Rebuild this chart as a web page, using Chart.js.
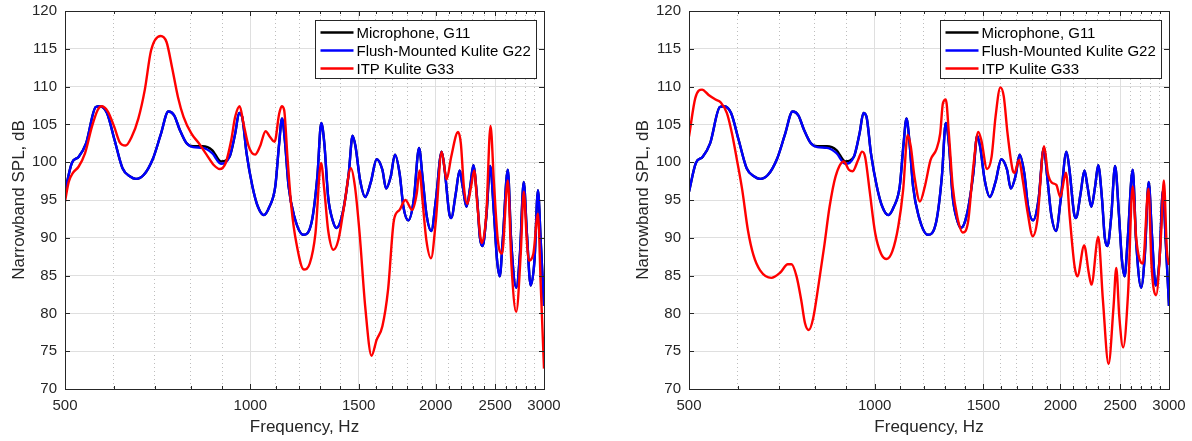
<!DOCTYPE html>
<html>
<head>
<meta charset="utf-8">
<script src="https://cdn.jsdelivr.net/npm/chart.js@4.4.1/dist/chart.umd.min.js"></script>
<style>
  body { margin: 0; background: #fff; }
  #wrap { position: relative; width: 1192px; height: 441px; }
  #wrap canvas { position: absolute; top: 0; }
</style>
</head>
<body>
<div id="wrap">
  <canvas id="left_chart" width="596" height="441" style="left:0"></canvas>
  <canvas id="right_chart" width="596" height="441" style="left:596px"></canvas>
</div>
<script>
// tick labels on the frequency axis
var xTickLabels = [500, 1000, 1500, 2000, 2500, 3000];

// Microphone G11 and flush-mounted Kulite G22 share one frequency grid (Hz)
var freqRef = [
  500, 513, 526, 541, 561, 570, 585, 602, 620, 638,
  652, 671, 695, 715, 736, 752, 768, 788, 807, 837,
  867, 896, 925, 945, 959, 970, 986, 1008, 1029, 1052,
  1074, 1098, 1114, 1126, 1138, 1154, 1179, 1219, 1258, 1285,
  1304, 1319, 1338, 1361, 1380, 1410, 1445, 1466, 1482, 1508,
  1537, 1570, 1604, 1639, 1662, 1691, 1718, 1748, 1773, 1806,
  1843, 1880, 1904, 1932, 1968, 2002, 2046, 2069, 2105, 2120,
  2157, 2188, 2213, 2245, 2277, 2303, 2337, 2360, 2384, 2418,
  2453, 2488, 2517, 2542, 2571, 2620, 2653, 2704, 2742, 2781,
  2814, 2854, 2895, 2933, 2963, 3000
];
var micDb = [
  96.1, 99.9, 100.7, 102.5, 107.3, 107.4, 106.5, 102.9, 99.2, 98.1,
  97.8, 98.3, 100.5, 103.6, 106.7, 106.2, 104.3, 102.5, 102.1, 102.1,
  101.6, 100.1, 100.7, 103.8, 106.5, 106.0, 101.2, 96.8, 94.1, 93.0,
  94.1, 96.8, 102.5, 105.8, 102.9, 96.8, 92.8, 90.4, 92.1, 98.1,
  105.2, 102.5, 95.4, 92.3, 91.3, 93.0, 98.5, 103.5, 102.1, 97.6,
  95.4, 97.4, 100.4, 99.0, 96.5, 98.1, 101.0, 98.5, 94.1, 92.3,
  95.0, 101.9, 98.1, 93.2, 90.9, 95.0, 101.4, 99.0, 93.2, 92.6,
  95.9, 98.9, 96.8, 94.1, 96.8, 99.6, 95.0, 90.1, 88.9, 92.8,
  99.5, 93.2, 87.0, 84.9, 89.7, 99.0, 89.7, 83.4, 87.9, 97.4,
  90.6, 83.7, 87.0, 96.3, 89.7, 81.0
];
var flushDb = [
  96.1, 99.9, 100.7, 102.5, 107.3, 107.4, 106.5, 102.9, 99.2, 98.1,
  97.8, 98.3, 100.5, 103.6, 106.7, 106.2, 104.3, 102.5, 102.0, 101.9,
  101.2, 99.8, 100.7, 103.8, 106.5, 106.0, 101.2, 96.8, 94.1, 93.0,
  94.1, 96.8, 102.5, 105.8, 102.9, 96.8, 92.8, 90.4, 92.1, 98.1,
  105.2, 102.5, 95.4, 92.3, 91.3, 93.0, 98.5, 103.5, 102.1, 97.6,
  95.4, 97.4, 100.4, 99.0, 96.5, 98.1, 101.0, 98.5, 94.1, 92.3,
  95.0, 101.9, 98.1, 93.2, 90.9, 95.0, 101.4, 99.0, 93.2, 92.6,
  95.9, 98.9, 96.8, 94.1, 96.8, 99.6, 95.0, 90.1, 88.9, 92.8,
  99.5, 93.2, 87.0, 84.9, 89.7, 99.0, 89.7, 83.4, 87.9, 97.4,
  90.6, 83.7, 87.0, 96.3, 89.7, 81.0
];

// ITP Kulite G33, left panel
var freqItpLeft = [
  500, 507, 515, 526, 539, 553, 565, 573, 587, 601,
  613, 627, 642, 658, 674, 690, 715, 731, 746, 763,
  779, 802, 825, 849, 873, 892, 912, 931, 945, 961,
  975, 994, 1018, 1037, 1059, 1075, 1095, 1114, 1125, 1135,
  1149, 1166, 1188, 1222, 1249, 1276, 1303, 1319, 1338, 1365,
  1390, 1420, 1457, 1479, 1505, 1537, 1574, 1604, 1639, 1674,
  1711, 1748, 1786, 1832, 1864, 1883, 1904, 1932, 1966, 2002,
  2046, 2084, 2120, 2175, 2198, 2223, 2252, 2284, 2311, 2337,
  2377, 2418, 2456, 2488, 2524, 2564, 2620, 2657, 2704, 2750,
  2781, 2813, 2833, 2883, 2933, 2963, 3000
];
var itpLeftDb = [
  94.8, 97.4, 98.6, 99.4, 101.2, 104.7, 106.9, 107.4, 106.7, 104.7,
  102.7, 102.2, 103.4, 105.8, 109.6, 114.8, 116.7, 115.9, 112.6, 108.6,
  106.0, 103.8, 102.5, 101.0, 99.6, 99.1, 99.9, 102.9, 106.0, 107.4,
  105.1, 102.1, 101.0, 102.1, 104.1, 103.4, 102.7, 106.4, 107.4, 106.9,
  100.7, 94.1, 89.3, 85.8, 86.6, 90.6, 99.9, 96.3, 91.0, 88.4,
  89.7, 94.1, 99.2, 96.8, 90.6, 80.9, 74.4, 76.5, 78.3, 83.1,
  92.3, 93.7, 95.0, 93.7, 95.9, 98.9, 95.0, 89.7, 87.3, 92.3,
  101.4, 97.7, 100.7, 104.0, 102.5, 96.8, 94.5, 96.8, 98.9, 94.5,
  89.3, 93.2, 104.8, 97.2, 89.7, 87.9, 97.6, 86.2, 80.2, 87.9,
  96.1, 89.7, 87.0, 87.9, 93.2, 84.0, 72.7
];

// ITP Kulite G33, right panel
var freqItpRight = [
  500, 512, 525, 538, 552, 563, 576, 587, 598, 610,
  623, 636, 652, 680, 703, 723, 733, 747, 760, 771,
  782, 795, 810, 828, 845, 864, 891, 908, 921, 940,
  954, 965, 981, 1002, 1024, 1046, 1068, 1092, 1112, 1131,
  1144, 1160, 1184, 1206, 1232, 1259, 1277, 1290, 1304, 1319,
  1338, 1361, 1390, 1417, 1445, 1472, 1489, 1521, 1547, 1570,
  1599, 1619, 1642, 1673, 1685, 1714, 1738, 1771, 1804, 1835,
  1882, 1909, 1937, 1970, 1999, 2042, 2071, 2109, 2131, 2186,
  2224, 2246, 2304, 2344, 2394, 2439, 2464, 2492, 2528, 2575,
  2619, 2656, 2721, 2779, 2811, 2859, 2913, 2943, 2976, 3000
];
var itpRightDb = [
  103.4, 108.5, 109.6, 108.9, 108.3, 107.9, 106.5, 103.8, 100.3, 96.3,
  91.0, 87.7, 85.7, 84.7, 85.4, 86.5, 86.5, 84.9, 81.8, 78.7,
  77.8, 79.4, 83.5, 88.8, 94.1, 98.1, 100.1, 99.0, 98.8, 100.3,
  101.4, 100.7, 96.3, 90.6, 87.9, 87.2, 88.2, 91.5, 96.3, 103.6,
  102.1, 98.1, 94.8, 96.8, 100.3, 101.7, 103.8, 107.8, 108.3, 103.8,
  96.8, 92.8, 90.7, 92.1, 99.4, 104.0, 102.9, 99.1, 100.7, 106.0,
  109.9, 108.7, 103.8, 99.0, 98.6, 100.3, 97.6, 93.2, 90.2, 92.3,
  102.1, 98.5, 97.3, 97.0, 95.4, 98.6, 92.8, 86.2, 84.9, 89.0,
  85.3, 83.8, 90.1, 81.8, 73.3, 80.9, 86.0, 79.6, 75.5, 82.7,
  96.8, 89.7, 86.6, 96.5, 86.2, 82.4, 90.6, 97.6, 88.4, 86.4
];

var textColor = '#262626';
var fontFamily = "'Liberation Sans', Arial, Helvetica, sans-serif";

// every 100 Hz gets a grid line, the labelled ones are solid
var gridFreqs = [];
for (var f = 500; f <= 3000; f += 100) gridFreqs.push(f);
function isMajor(v) { return xTickLabels.indexOf(v) >= 0; }

function toPoints(xs, ys) {
  return xs.map(function (x, i) { return { x: x, y: ys[i] }; });
}

// matlab style box with inward ticks on all four sides
var framePlugin = {
  id: 'frame',
  afterDatasetsDraw: function (chart) {
    var ctx = chart.ctx, a = chart.chartArea;
    var xs = chart.scales.x, ys = chart.scales.y;
    ctx.save();
    ctx.strokeStyle = textColor;
    ctx.lineWidth = 1;
    ctx.beginPath();
    gridFreqs.forEach(function (v) {
      var px = Math.round(xs.getPixelForValue(v)) + 0.5;
      var len = isMajor(v) ? 5 : 3;
      ctx.moveTo(px, a.bottom); ctx.lineTo(px, a.bottom - len);
      ctx.moveTo(px, a.top); ctx.lineTo(px, a.top + len);
    });
    for (var d = 70; d <= 120; d += 5) {
      var py = Math.round(ys.getPixelForValue(d)) + 0.5;
      ctx.moveTo(a.left, py); ctx.lineTo(a.left + 5, py);
      ctx.moveTo(a.right, py); ctx.lineTo(a.right - 5, py);
    }
    ctx.stroke();
    ctx.strokeRect(Math.round(a.left) + 0.5, Math.round(a.top) + 0.5,
      Math.round(a.right - a.left), Math.round(a.bottom - a.top));
    ctx.restore();
  }
};

// legend box in the upper right corner of the axes
var boxLegendPlugin = {
  id: 'boxLegend',
  afterDraw: function (chart) {
    var ctx = chart.ctx, a = chart.chartArea;
    var w = 221, h = 58;
    var bx = Math.round(a.right - 8 - w) + 0.5, by = Math.round(a.top + 9) + 0.5;
    ctx.save();
    ctx.fillStyle = '#fff';
    ctx.fillRect(bx, by, w, h);
    ctx.strokeStyle = textColor;
    ctx.lineWidth = 1;
    ctx.strokeRect(bx, by, w, h);
    ctx.font = '15px ' + fontFamily;
    ctx.textBaseline = 'middle';
    chart.data.datasets.forEach(function (ds, i) {
      var cy = by + 12 + i * 18;
      ctx.strokeStyle = ds.borderColor;
      ctx.lineWidth = 2.4;
      ctx.beginPath();
      ctx.moveTo(bx + 5, cy); ctx.lineTo(bx + 38, cy);
      ctx.stroke();
      ctx.fillStyle = '#000';
      ctx.fillText(ds.label, bx + 41, cy + 1);
    });
    ctx.restore();
  }
};

function make_chart(id, itpFreq, itpDb, padLeft, padRight) {
  var el = document.getElementById(id).getContext('2d');
  var line = { pointRadius: 0, borderWidth: 2.4, fill: false, cubicInterpolationMode: 'monotone' };
  // lower order is painted last, so red ends up on top and black underneath
  return new Chart(el, {
    type: 'line',
    data: {
      datasets: [
        Object.assign({ label: 'Microphone, G11', borderColor: '#000000', order: 3, data: toPoints(freqRef, micDb) }, line),
        Object.assign({ label: 'Flush-Mounted Kulite G22', borderColor: '#0000ff', order: 2, data: toPoints(freqRef, flushDb) }, line),
        Object.assign({ label: 'ITP Kulite G33', borderColor: '#ff0000', order: 1, data: toPoints(itpFreq, itpDb) }, line)
      ]
    },
    options: {
      responsive: false,
      animation: false,
      devicePixelRatio: 1,
      layout: { padding: { left: padLeft, right: padRight, top: 11, bottom: 0 } },
      plugins: { legend: { display: false }, tooltip: { enabled: false } },
      scales: {
        x: {
          type: 'logarithmic',
          min: 500, max: 3000,
          afterBuildTicks: function (s) {
            s.ticks = gridFreqs.map(function (v) { return { value: v }; });
          },
          afterFit: function (s) { s.height = 52; s.paddingLeft = 0; s.paddingRight = 0; },
          ticks: {
            autoSkip: false, maxRotation: 0, minRotation: 0, padding: 8,
            color: textColor, font: { family: fontFamily, size: 15 },
            callback: function (v) { return isMajor(v) ? String(v) : ''; }
          },
          grid: {
            drawTicks: false,
            lineWidth: 1,
            color: function (c) { return (c.tick && !isMajor(c.tick.value)) ? '#bdbdbd' : '#dfdfdf'; }
          },
          border: {
            display: false,
            dash: function (c) { return (c.tick && !isMajor(c.tick.value)) ? [1, 3] : []; }
          },
          title: {
            display: true, text: 'Frequency, Hz', color: textColor,
            font: { family: fontFamily, size: 17 }, padding: { top: 0, bottom: 3 }
          }
        },
        y: {
          min: 70, max: 120,
          // fixed width, and no extra room above/below for the end labels
          afterFit: function (s) { s.width = 65; s.paddingTop = 0; s.paddingBottom = 0; },
          ticks: {
            stepSize: 5, padding: 8, color: textColor,
            font: { family: fontFamily, size: 15 }
          },
          grid: { drawTicks: false, color: '#dfdfdf', lineWidth: 1 },
          border: { display: false },
          title: {
            display: true, text: 'Narrowband SPL, dB', color: textColor,
            font: { family: fontFamily, size: 17, lineHeight: 0.82 }, padding: { top: 12, bottom: 0 }
          }
        }
      }
    },
    plugins: [framePlugin, boxLegendPlugin]
  });
}

make_chart('left_chart', freqItpLeft, itpLeftDb, 0, 52);
make_chart('right_chart', freqItpRight, itpRightDb, 28, 23);
</script>
</body>
</html>
